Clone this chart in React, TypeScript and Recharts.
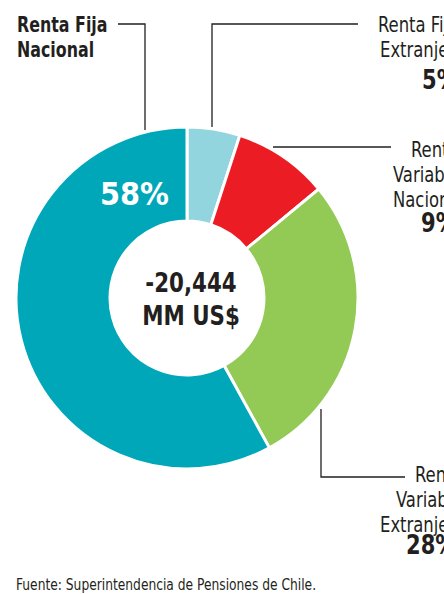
import { PieChart, Pie, Cell } from "recharts";

// data
const categories = [
  "Renta Fija Extranjera",
  "Renta Variable Nacional",
  "Renta Variable Extranjera",
  "Renta Fija Nacional",
];
const shares = [5, 9, 28, 58];
const labelLines = [
  ["Renta Fija", "Extranjera"],
  ["Renta", "Variable", "Nacional"],
  ["Renta", "Variable", "Extranjera"],
  ["Renta Fija", "Nacional"],
];
const totalLines = ["-20,444", "MM US$"];
const source = "Fuente: Superintendencia de Pensiones de Chile.";

// look
const colors = ["#92D5DE", "#EC1C24", "#93C955", "#00A7B9"];
const ink = "#231F20";
const font = "'DejaVu Sans Condensed', 'DejaVu Sans', sans-serif";

// where each label sits (x of first char per line, baseline of first line)
const labelPos = [
  { xs: [378, 380], y: 32, pctX: 422, pctY: 89 },
  { xs: [411, 393, 393], y: 157, pctX: 421, pctY: 232 },
  { xs: [415, 396, 380], y: 482, pctX: 406, pctY: 554 },
  { xs: [17, 17], y: 32, pctX: 100, pctY: 205 },
];
const leaders = [
  "M358,24 H212 V127",
  "M391,147 H273",
  "M405,477 H321 V409",
  "M118,24 H145 V130",
];

const pieData = categories.map((name, i) => ({ name, value: shares[i] }));

// narrowed text, the original uses a condensed face
function T({
  x,
  y,
  sx = 0.86,
  size,
  bold = false,
  fill = ink,
  anchor = "start",
  children,
}: {
  x: number;
  y: number;
  sx?: number;
  size: number;
  bold?: boolean;
  fill?: string;
  anchor?: string;
  children: React.ReactNode;
}) {
  return (
    <text
      transform={`translate(${x},${y}) scale(${sx},1)`}
      fontFamily={font}
      fontSize={size}
      fontWeight={bold ? 700 : 400}
      fill={fill}
      textAnchor={anchor}
    >
      {children}
    </text>
  );
}

export default function App() {
  return (
    <div
      style={{
        position: "absolute",
        left: 0,
        top: 0,
        width: 444,
        height: 594,
        overflow: "hidden",
        background: "#fff",
      }}
    >
      <PieChart width={444} height={594} margin={{ top: 0, right: 0, bottom: 0, left: 0 }}>
        <Pie
          data={pieData}
          dataKey="value"
          cx={187}
          cy={298}
          innerRadius={77}
          outerRadius={171}
          startAngle={90}
          endAngle={-270}
          stroke="#fff"
          strokeWidth={3}
          isAnimationActive={false}
        >
          {pieData.map((d, i) => (
            <Cell key={d.name} fill={colors[i]} />
          ))}
        </Pie>
      </PieChart>
      <svg
        width={444}
        height={594}
        style={{ position: "absolute", left: 0, top: 0, pointerEvents: "none" }}
      >
        {leaders.map((d, i) => (
          <path key={i} d={d} fill="none" stroke={ink} strokeWidth={1.3} />
        ))}
        {labelLines.map((lines, i) => {
          const p = labelPos[i];
          const inside = i === 3;
          return (
            <g key={categories[i]}>
              {lines.map((t, j) => (
                <T
                  key={j}
                  x={p.xs[j]}
                  y={p.y + j * 25}
                  size={21}
                  bold={inside}
                  sx={inside ? 0.84 : 0.87}
                >
                  {t}
                </T>
              ))}
              <T
                x={p.pctX}
                y={p.pctY}
                size={inside ? 32 : 26}
                bold
                sx={inside ? 1.0 : 0.9}
                fill={inside ? "#fff" : ink}
              >
                {shares[i]}%
              </T>
            </g>
          );
        })}
        {totalLines.map((t, j) => (
          <T key={t} x={191} y={292 + j * 33} size={27} bold sx={0.88} anchor="middle">
            {t}
          </T>
        ))}
        <T x={16} y={590} size={15} sx={0.91}>
          {source}
        </T>
      </svg>
    </div>
  );
}
